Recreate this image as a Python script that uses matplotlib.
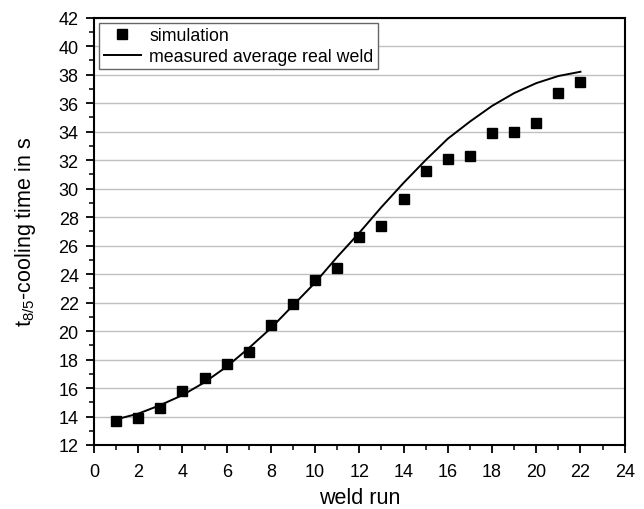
import matplotlib
matplotlib.use("Agg")
import matplotlib.pyplot as plt
from matplotlib.ticker import MultipleLocator

plt.rcParams['font.family'] = ['Liberation Sans', 'DejaVu Sans']
plt.rcParams['mathtext.fontset'] = 'custom'
plt.rcParams['mathtext.rm'] = 'Liberation Sans'
plt.rcParams['mathtext.it'] = 'Liberation Sans'
plt.rcParams['mathtext.bf'] = 'Liberation Sans'

weld_run = list(range(1, 23))
simulation = [13.7, 13.9, 14.6, 15.8, 16.7, 17.7, 18.5, 20.4, 21.9, 23.6, 24.4,
              26.6, 27.4, 29.3, 31.2, 32.1, 32.3, 33.9, 34.0, 34.6, 36.7, 37.5]
measured = [13.8, 14.2, 14.8, 15.5, 16.4, 17.5, 18.8, 20.2, 21.8, 23.4, 25.2,
            26.9, 28.7, 30.4, 32.0, 33.5, 34.7, 35.8, 36.7, 37.4, 37.9, 38.2]

fig = plt.figure(figsize=(6.44, 5.10), dpi=100)
ax = fig.add_axes([0.146, 0.1255, 0.824, 0.838])

ax.plot(weld_run, measured, color='black', lw=1.4, label='measured average real weld', zorder=3)
ax.plot(weld_run, simulation, ls='none', marker='s', ms=7, color='black', label='simulation', zorder=4)

ax.set_xlim(0, 24)
ax.set_ylim(12, 42)
ax.xaxis.set_major_locator(MultipleLocator(2))
ax.xaxis.set_minor_locator(MultipleLocator(1))
ax.yaxis.set_major_locator(MultipleLocator(2))
ax.yaxis.set_minor_locator(MultipleLocator(1))
ax.tick_params(which='major', direction='out', length=6, width=1.3, labelsize=13, colors='black', pad=5)
ax.tick_params(axis='x', which='major', pad=7)
ax.tick_params(which='minor', direction='out', length=3.5, width=1.1)
ax.grid(axis='y', which='major', color='#c0c0c0', lw=1.0, zorder=0)
ax.set_axisbelow(True)
for s in ax.spines.values():
    s.set_linewidth(1.5)

ax.set_xlabel('weld run', fontsize=15.5, labelpad=5)
ax.set_ylabel('t$_{8/5}$-cooling time in s', fontsize=15.5, labelpad=15)

handles, labels = ax.get_legend_handles_labels()
leg = ax.legend(handles[::-1], labels[::-1], loc='upper left', fontsize=12.8,
                frameon=True, fancybox=False, edgecolor='#666666', framealpha=1,
                borderpad=0.25, handlelength=2.1, handletextpad=0.45, labelspacing=0.2,
                borderaxespad=0.3)
leg.get_frame().set_linewidth(1.0)

fig.savefig('out.png', dpi=100)
